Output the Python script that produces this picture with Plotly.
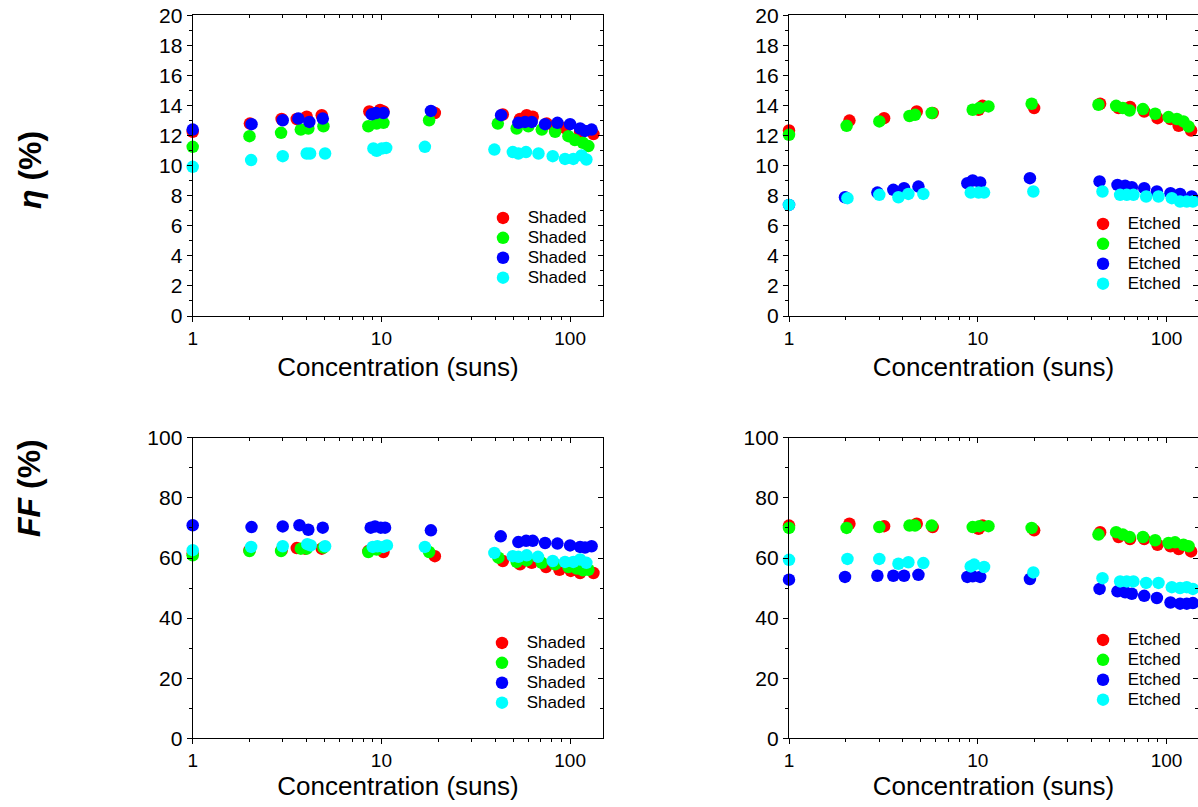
import plotly.graph_objects as go

W, H = 1198, 807

# ---- efficiency, shaded cells (suns, %) ----
eta_sh_red_x = [1.0, 2.01, 2.96, 3.56, 4.02, 4.83, 8.63, 9.84, 10.25, 19.2, 44.0, 54.3, 58.9, 63.4, 75.2, 83.2, 94.0, 113, 133]
eta_sh_red_y = [12.25, 12.8, 13.1, 13.1, 13.25, 13.35, 13.6, 13.7, 13.6, 13.5, 13.4, 13.1, 13.35, 13.25, 12.8, 12.4, 12.5, 12.25, 12.1]
eta_sh_green_x = [1.0, 2.0, 2.94, 3.74, 4.10, 4.93, 8.53, 9.44, 10.25, 17.9, 41.4, 52.1, 60.1, 70.8, 83.3, 98, 106, 117, 125]
eta_sh_green_y = [11.25, 11.96, 12.18, 12.4, 12.47, 12.62, 12.62, 12.8, 12.85, 13.02, 12.8, 12.47, 12.62, 12.4, 12.25, 11.96, 11.7, 11.52, 11.3]
eta_sh_blue_x = [1.0, 2.05, 3.0, 3.63, 4.15, 4.89, 8.89, 9.37, 10.25, 18.3, 43.1, 53.2, 57.7, 62.6, 73.7, 85.7, 100, 113, 120, 130]
eta_sh_blue_y = [12.4, 12.76, 13.02, 13.13, 12.91, 13.13, 13.42, 13.5, 13.5, 13.64, 13.36, 12.85, 12.91, 12.91, 12.76, 12.85, 12.76, 12.47, 12.31, 12.4]
eta_sh_cyan_x = [1.0, 2.04, 3.0, 4.02, 4.19, 5.03, 9.07, 9.44, 10.04, 10.6, 17.0, 39.7, 49.7, 53.2, 58.4, 68.0, 80.9, 94, 104, 115, 122]
eta_sh_cyan_y = [9.92, 10.37, 10.63, 10.81, 10.81, 10.81, 11.14, 10.99, 11.14, 11.18, 11.25, 11.07, 10.9, 10.81, 10.9, 10.81, 10.63, 10.45, 10.45, 10.68, 10.41]

# ---- efficiency, etched cells ----
eta_et_red_x = [1.0, 2.09, 3.19, 4.75, 5.77, 10.1, 10.6, 19.9, 44.5, 55.7, 64.1, 76.2, 89.6, 105, 116, 135]
eta_et_red_y = [12.34, 13.0, 13.16, 13.6, 13.5, 13.72, 13.98, 13.83, 14.12, 13.83, 13.9, 13.6, 13.16, 13.1, 12.65, 12.34]
eta_et_green_x = [1.0, 2.02, 3.01, 4.35, 4.65, 5.70, 9.4, 10.2, 11.4, 19.3, 43.6, 54.1, 58.7, 63.7, 75, 87.1, 102.5, 113.5, 123, 131]
eta_et_green_y = [12.05, 12.65, 12.94, 13.3, 13.38, 13.5, 13.72, 13.83, 13.94, 14.12, 14.05, 13.98, 13.83, 13.67, 13.76, 13.45, 13.23, 13.1, 12.94, 12.6]
eta_et_blue_x = [1.0, 1.98, 2.94, 3.57, 4.07, 4.85, 8.81, 9.4, 10.3, 18.9, 44.2, 55.0, 60.4, 65.5, 76.2, 88.9, 105, 118, 136]
eta_et_blue_y = [7.39, 7.9, 8.21, 8.39, 8.5, 8.61, 8.83, 9.01, 8.88, 9.17, 8.95, 8.72, 8.66, 8.57, 8.5, 8.28, 8.17, 8.12, 7.95]
eta_et_cyan_x = [1.0, 2.04, 3.01, 3.80, 4.29, 5.15, 9.18, 10.1, 10.8, 19.7, 45.8, 56.8, 61.6, 66.8, 78, 90.7, 106.7, 118, 128, 138]
eta_et_cyan_y = [7.39, 7.84, 8.06, 7.9, 8.12, 8.12, 8.21, 8.21, 8.21, 8.28, 8.28, 8.06, 8.06, 8.06, 7.95, 7.95, 7.84, 7.61, 7.61, 7.61]

# ---- fill factor, shaded cells ----
ff_sh_red_x = [1.0, 2.0, 2.96, 3.56, 3.94, 4.83, 8.53, 10.25, 19.2, 44.0, 54.3, 62.6, 74.6, 87.8, 100.9, 113, 133]
ff_sh_red_y = [61.5, 62.6, 62.6, 63.3, 63.1, 63.1, 62.3, 62.0, 60.6, 59.0, 57.9, 58.4, 57.0, 56.1, 55.7, 55.0, 55.0]
ff_sh_green_x = [1.0, 2.0, 2.94, 3.74, 4.02, 4.93, 8.53, 9.44, 17.9, 41.7, 52.1, 58.9, 70.8, 83.3, 98, 108.5, 117, 125]
ff_sh_green_y = [60.9, 62.3, 62.3, 63.1, 63.1, 63.5, 62.0, 62.8, 62.0, 60.1, 58.7, 59.2, 58.4, 57.9, 57.0, 56.5, 55.9, 56.1]
ff_sh_blue_x = [1.0, 2.05, 3.0, 3.68, 4.10, 4.89, 8.78, 9.25, 9.92, 10.46, 18.3, 42.9, 53.2, 58.5, 63.4, 73.7, 85.7, 100, 113, 120, 130]
ff_sh_blue_y = [70.9, 70.3, 70.5, 70.9, 69.4, 70.1, 70.1, 70.5, 70.1, 70.1, 69.2, 67.2, 65.3, 65.7, 65.7, 65.0, 64.8, 64.2, 63.7, 63.5, 63.9]
ff_sh_cyan_x = [1.0, 2.04, 3.0, 4.05, 4.22, 5.03, 9.0, 9.52, 10.25, 10.7, 17.0, 39.7, 49.7, 53.2, 58.9, 67.6, 80.9, 94, 104, 113, 122]
ff_sh_cyan_y = [62.6, 63.7, 63.9, 64.6, 64.2, 63.9, 63.7, 63.9, 63.7, 64.2, 63.7, 61.7, 60.6, 60.4, 60.9, 60.4, 59.0, 58.7, 58.7, 59.5, 58.4]

# ---- fill factor, etched cells ----
ff_et_red_x = [1.0, 2.09, 3.19, 4.75, 5.77, 10.1, 10.6, 19.9, 44.5, 55.7, 64.1, 76.2, 89.6, 105, 116, 135]
ff_et_red_y = [70.8, 71.4, 70.6, 71.4, 70.3, 69.7, 70.8, 69.2, 68.6, 67.0, 66.3, 66.3, 64.4, 63.9, 63.0, 62.2]
ff_et_green_x = [1.0, 2.02, 3.01, 4.35, 4.65, 5.70, 9.4, 10.2, 11.4, 19.3, 43.6, 54.1, 58.7, 63.7, 75, 87.1, 102.5, 111, 123, 131]
ff_et_green_y = [70.0, 70.0, 70.3, 70.8, 70.8, 70.8, 70.3, 70.6, 70.6, 70.0, 67.8, 68.6, 67.8, 67.0, 67.0, 65.9, 65.0, 65.2, 64.4, 63.9]
ff_et_blue_x = [1.0, 1.98, 2.94, 3.57, 4.07, 4.85, 8.81, 9.4, 10.3, 18.9, 44.2, 55.0, 60.4, 65.5, 76.2, 88.9, 105, 118, 128, 138]
ff_et_blue_y = [52.8, 53.7, 54.1, 54.1, 54.1, 54.4, 53.7, 53.9, 53.7, 53.0, 49.7, 48.9, 48.6, 48.1, 47.4, 46.7, 45.2, 44.8, 44.8, 45.0]
ff_et_cyan_x = [1.0, 2.04, 3.01, 3.80, 4.29, 5.15, 9.18, 9.57, 10.8, 19.7, 45.8, 56.8, 61.6, 66.8, 78, 90.7, 106.7, 118, 128, 138]
ff_et_cyan_y = [59.4, 59.7, 59.7, 58.1, 58.6, 58.3, 57.2, 57.8, 57.0, 55.2, 53.3, 52.2, 52.2, 52.2, 51.7, 51.7, 50.3, 50.0, 50.3, 49.7]

series_colors = ["#FF0000", "#00FF00", "#0000FF", "#00FFFF"]
FONT = "Liberation Sans, Arial, sans-serif"

panels = [
    # (axis suffix, frame axis suffix, legend id, label, series list)
    ("", "5", "legend", "Shaded", [(eta_sh_red_x, eta_sh_red_y), (eta_sh_green_x, eta_sh_green_y),
                                   (eta_sh_blue_x, eta_sh_blue_y), (eta_sh_cyan_x, eta_sh_cyan_y)]),
    ("2", "6", "legend2", "Etched", [(eta_et_red_x, eta_et_red_y), (eta_et_green_x, eta_et_green_y),
                                     (eta_et_blue_x, eta_et_blue_y), (eta_et_cyan_x, eta_et_cyan_y)]),
    ("3", "7", "legend3", "Shaded", [(ff_sh_red_x, ff_sh_red_y), (ff_sh_green_x, ff_sh_green_y),
                                     (ff_sh_blue_x, ff_sh_blue_y), (ff_sh_cyan_x, ff_sh_cyan_y)]),
    ("4", "8", "legend4", "Etched", [(ff_et_red_x, ff_et_red_y), (ff_et_green_x, ff_et_green_y),
                                     (ff_et_blue_x, ff_et_blue_y), (ff_et_cyan_x, ff_et_cyan_y)]),
]

fig = go.Figure()
for suffix, frame, leg, label, series in panels:
    for (xs, ys), col in zip(series, series_colors):
        fig.add_trace(go.Scatter(
            x=xs, y=ys, mode="markers", name=f'<span style="font-size:17px"> {label}</span>',
            marker=dict(color=col, size=12.5, line=dict(width=0)),
            xaxis="x" + suffix, yaxis="y" + suffix, legend=leg, cliponaxis=False,
            hoverinfo="x+y",
        ))
    # empty traces so the mirrored top / right frame axes get drawn
    fig.add_trace(go.Scatter(x=[], y=[], xaxis="x" + frame, yaxis="y" + suffix,
                             showlegend=False, hoverinfo="skip"))
    fig.add_trace(go.Scatter(x=[], y=[], xaxis="x" + suffix, yaxis="y" + frame,
                             showlegend=False, hoverinfo="skip"))

# pixel geometry of the four plot boxes
def fx(px):
    return px / W

def fy(py):
    return 1 - py / H

left_x = [fx(192.7), fx(603.3)]
right_x = [fx(789.0), 1.0]
top_y = [fy(316.0), fy(15.3)]
bot_y = [fy(738.3), fy(437.8)]
x_range_left = [0, 2.176]
x_range_right = [0, (W - 789.0) / 188.75]

line_w = 1.3
tick_font = dict(family=FONT, size=19, color="black")
ytick_font = dict(family=FONT, size=21, color="black")

def x_axis(domain, rng, anchor, title, standoff):
    return dict(
        type="log", domain=domain, range=rng, anchor=anchor, dtick=1, automargin=False,
        showgrid=False, zeroline=False, showline=True, linecolor="black", linewidth=line_w,
        ticks="outside", ticklen=5, tickwidth=line_w, tickcolor="black",
        minor=dict(dtick="D1", ticks="outside", ticklen=3, tickwidth=line_w, tickcolor="black", showgrid=False),
        tickfont=tick_font,
        title=dict(text=title, font=dict(family=FONT, size=26, color="black"), standoff=standoff),
    )

def y_axis(domain, rng, anchor, dtick):
    return dict(
        domain=domain, range=rng, anchor=anchor, dtick=dtick, automargin=False,
        showgrid=False, zeroline=False, showline=True, linecolor="black", linewidth=line_w,
        ticks="outside", ticklen=5, tickwidth=line_w, tickcolor="black",
        minor=dict(dtick=dtick / 2, ticks="outside", ticklen=3, tickwidth=line_w, tickcolor="black", showgrid=False),
        tickfont=ytick_font,
    )

def x_top(base, rng, anchor):
    return dict(
        type="log", overlaying=base, side="top", anchor=anchor, range=rng, dtick=1, automargin=False,
        showgrid=False, zeroline=False, showline=True, linecolor="black", linewidth=line_w,
        ticks="inside", ticklen=5, tickwidth=line_w, tickcolor="black", showticklabels=False,
        minor=dict(dtick="D1", ticks="inside", ticklen=3, tickwidth=line_w, tickcolor="black", showgrid=False),
    )

def y_right(base, rng, anchor, dtick, show_line=True):
    return dict(
        overlaying=base, side="right", anchor=anchor, range=rng, dtick=dtick, automargin=False,
        showgrid=False, zeroline=False, showline=show_line, linecolor="black", linewidth=line_w,
        ticks="inside", ticklen=5, tickwidth=line_w, tickcolor="black", showticklabels=False,
        minor=dict(dtick=dtick / 2, ticks="inside", ticklen=3, tickwidth=line_w, tickcolor="black", showgrid=False),
    )

xtitle = "Concentration (suns)"
eta_range = [0, 20]
ff_range = [0, 100]

legend_common = dict(
    bgcolor="rgba(0,0,0,0)", borderwidth=0, font=dict(family=FONT, size=13, color="black"),
    xanchor="left", yanchor="top", itemsizing="trace", tracegroupgap=0,
)

fig.update_layout(
    width=W, height=H, margin=dict(l=0, r=0, t=0, b=0, autoexpand=False),
    paper_bgcolor="white", plot_bgcolor="white",
    font=dict(family=FONT, color="black"),
    xaxis=x_axis(left_x, x_range_left, "y", xtitle, 9),
    yaxis=y_axis(top_y, eta_range, "x", 2),
    xaxis2=x_axis(right_x, x_range_right, "y2", xtitle, 9),
    yaxis2=y_axis(top_y, eta_range, "x2", 2),
    xaxis3=x_axis(left_x, x_range_left, "y3", xtitle, 4),
    yaxis3=y_axis(bot_y, ff_range, "x3", 20),
    xaxis4=x_axis(right_x, x_range_right, "y4", xtitle, 4),
    yaxis4=y_axis(bot_y, ff_range, "x4", 20),
    # mirrored frames with inward ticks on top and right
    xaxis5=x_top("x", x_range_left, "y"),
    yaxis5=y_right("y", eta_range, "x", 2),
    xaxis6=x_top("x2", x_range_right, "y2"),
    yaxis6=y_right("y2", eta_range, "x2", 2, show_line=False),
    xaxis7=x_top("x3", x_range_left, "y3"),
    yaxis7=y_right("y3", ff_range, "x3", 20),
    xaxis8=x_top("x4", x_range_right, "y4"),
    yaxis8=y_right("y4", ff_range, "x4", 20, show_line=False),
    legend=dict(x=fx(483), y=fy(203), **legend_common),
    legend2=dict(x=fx(1083), y=fy(209), **legend_common),
    legend3=dict(x=fx(482), y=fy(628), **legend_common),
    legend4=dict(x=fx(1083), y=fy(625), **legend_common),
    showlegend=True,
)

# y-axis titles sit in the left margin
fig.add_annotation(x=fx(30), y=fy(170), xref="paper", yref="paper", textangle=-90,
                   xanchor="center", yanchor="middle",
                   text="<b><i>η</i> (%)</b>", showarrow=False,
                   font=dict(family=FONT, size=32, color="black"))
fig.add_annotation(x=fx(29), y=fy(488), xref="paper", yref="paper", textangle=-90,
                   xanchor="center", yanchor="middle",
                   text="<b><i>FF</i> (%)</b>", showarrow=False,
                   font=dict(family=FONT, size=32, color="black"))

fig.write_html("out.html")
